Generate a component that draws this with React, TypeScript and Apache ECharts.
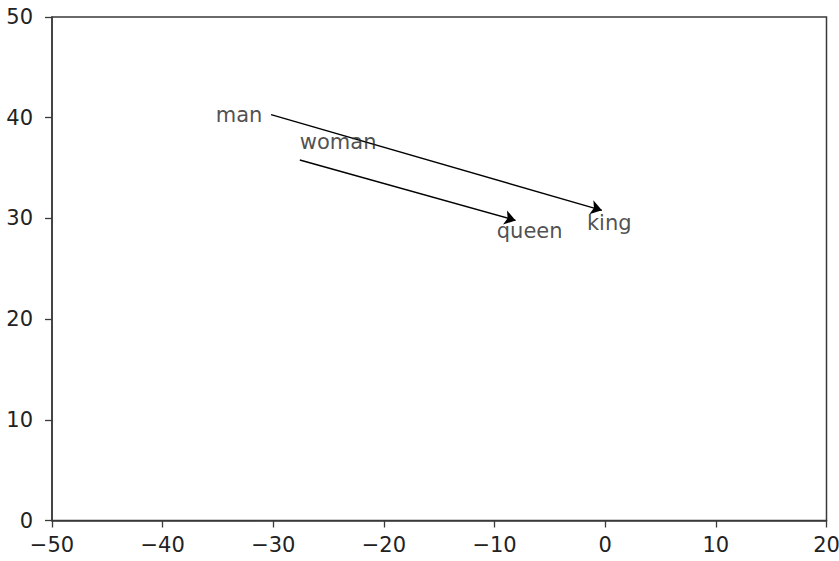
import React, { useEffect, useRef } from "react";
import * as echarts from "echarts";

const words = ["man", "woman", "queen", "king"];
const wordX = [-35.2, -27.6, -9.8, -1.65];
const wordY = [40.3, 37.55, 28.75, 29.5];

const arrowFrom = [[-30.2, 40.3], [-27.6, 35.8]];
const arrowTo = [[-0.3, 30.8], [-8.1, 29.8]];

const xTicks = [-50, -40, -30, -20, -10, 0, 10, 20];
const yTicks = [0, 10, 20, 30, 40, 50];

export default function App() {
  const ref = useRef<HTMLDivElement>(null);
  useEffect(() => {
    const chart = echarts.init(ref.current!, null, { renderer: "svg" });
    const fmt = (v: number) => String(v).replace("-", "\u2212");
    const axisCommon = {
      axisLine: { show: true, onZero: false, lineStyle: { color: "#3a3a3a", width: 1.5 } },
      axisTick: { show: true, length: 7, inside: false, lineStyle: { color: "#3a3a3a", width: 1.3 } },
      splitLine: { show: false },
    };
    chart.setOption({
      animation: false,
      backgroundColor: "#fff",
      grid: {
        left: 52,
        right: 12.5,
        top: 17,
        bottom: 40.5,
        show: true,
        borderColor: "#3a3a3a",
        borderWidth: 1.5,
        containLabel: false,
        outerBoundsMode: "none",
      },
      xAxis: {
        type: "value",
        min: xTicks[0],
        max: xTicks[xTicks.length - 1],
        interval: 10,
        ...axisCommon,
        axisLabel: {
          formatter: fmt,
          fontFamily: "DejaVu Sans",
          fontSize: 21,
          color: "#222",
          margin: 14,
          hideOverlap: false,
        },
      },
      yAxis: {
        type: "value",
        min: yTicks[0],
        max: yTicks[yTicks.length - 1],
        interval: 10,
        ...axisCommon,
        axisLabel: {
          formatter: fmt,
          fontFamily: "DejaVu Sans",
          fontSize: 21,
          color: "#222",
          margin: 19,
        },
      },
      series: [
        {
          type: "lines",
          coordinateSystem: "cartesian2d",
          symbol: ["none", "arrow"],
          symbolSize: 11,
          lineStyle: { color: "#000", width: 1.4, opacity: 1, curveness: 0 },
          data: arrowFrom.map((f, i) => ({ coords: [f, arrowTo[i]] })),
          z: 3,
        },
        {
          type: "scatter",
          symbolSize: 0,
          data: words.map((w, i) => ({ value: [wordX[i], wordY[i]], name: w })),
          label: {
            show: true,
            position: [0, 0],
            align: "left",
            verticalAlign: "middle",
            formatter: (p: any) => p.name,
            fontFamily: "DejaVu Sans",
            fontSize: 21,
            color: "#222",
          },
          z: 4,
        },
      ],
    });
    return () => chart.dispose();
  }, []);
  return <div ref={ref} style={{ width: 839, height: 561, position: "absolute", left: 0, top: 0 }} />;
}
